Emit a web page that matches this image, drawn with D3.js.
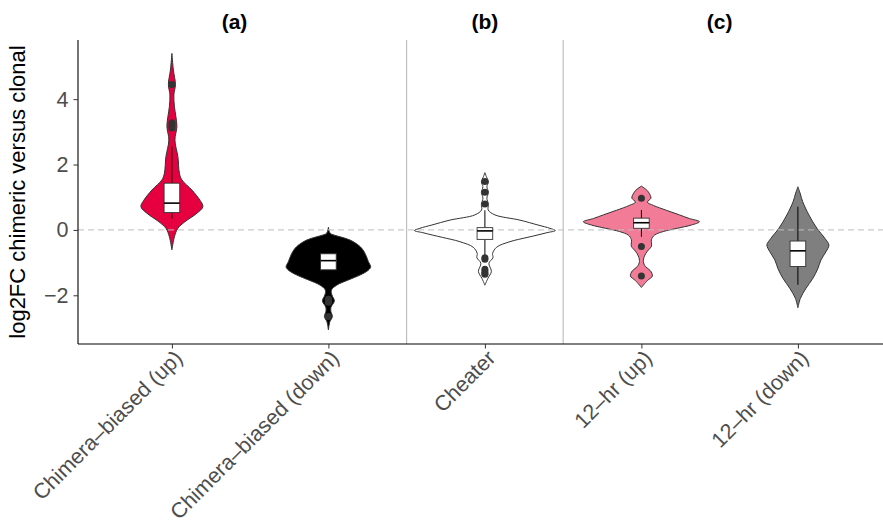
<!DOCTYPE html>
<html>
<head>
<meta charset="utf-8">
<script src="https://cdn.jsdelivr.net/npm/d3@7"></script>
<style>
  html, body { margin: 0; padding: 0; background: #ffffff; }
  svg { display: block; font-family: "Liberation Sans", Arial, Helvetica, sans-serif; }
</style>
</head>
<body>
<svg id="chart" width="883" height="526"></svg>
<script>
// Gene groups along the x axis
const categories = ["Chimera–biased (up)", "Chimera–biased (down)", "Cheater", "12–hr (up)", "12–hr (down)"];

// Violin outlines: [log2FC, relative density] pairs for each group
const densityChimeraUp = [[5.40,0],[4.89,0.021],[4.45,0.05],[4.13,0.028],[3.77,0.036],[3.46,0.057],[3.16,0.071],[2.75,0.043],[2.24,0.085],[1.73,0.107],[1.53,0.142],[1.22,0.284],[0.91,0.398],[0.71,0.44],[0.51,0.355],[0.25,0.185],[0.05,0.085],[-0.21,0.036],[-0.61,0]];
const densityChimeraDown = [[0.08,0],[-0.10,0.024],[-0.16,0.085],[-0.21,0.166],[-0.31,0.308],[-0.51,0.45],[-0.72,0.521],[-0.97,0.568],[-1.13,0.601],[-1.23,0.568],[-1.38,0.45],[-1.53,0.284],[-1.69,0.118],[-1.84,0.043],[-1.99,0.05],[-2.17,0.085],[-2.37,0.036],[-2.50,0.036],[-2.65,0.057],[-2.81,0.021],[-3.06,0]];
const densityCheater = [[1.75,0],[1.63,0.021],[1.47,0.05],[1.32,0.028],[1.15,0.05],[0.97,0.028],[0.79,0.05],[0.61,0.047],[0.46,0.142],[0.30,0.497],[0.15,0.753],[0.05,0.923],[-0.02,1.0],[-0.085,0.88],[-0.16,0.74],[-0.23,0.6],[-0.36,0.355],[-0.53,0.166],[-0.72,0.109],[-0.85,0.114],[-1.02,0.057],[-1.27,0.092],[-1.48,0.043],[-1.69,0]];
const density12hrUp = [[1.34,0],[1.2,0.085],[1.05,0.128],[0.97,0.135],[0.85,0.085],[0.75,0.17],[0.6,0.355],[0.46,0.54],[0.35,0.68],[0.25,0.824],[0.15,0.71],[0.05,0.51],[-0.05,0.31],[-0.16,0.185],[-0.3,0.142],[-0.5,0.142],[-0.65,0.085],[-0.8,0.043],[-0.97,0.028],[-1.12,0.057],[-1.25,0.128],[-1.41,0.156],[-1.55,0.085],[-1.76,0]];
const density12hrDown = [[1.32,0],[1.1,0.035],[0.87,0.067],[0.46,0.156],[0.05,0.27],[-0.26,0.384],[-0.46,0.44],[-0.67,0.398],[-0.92,0.327],[-1.18,0.284],[-1.48,0.213],[-1.79,0.114],[-2.09,0.036],[-2.38,0]];
const densities = [densityChimeraUp, densityChimeraDown, densityCheater, density12hrUp, density12hrDown];

// Box-plot summaries per group
const whiskerLow  = [0.34, -1.70, -0.78, -0.21, -1.68];
const boxQ1       = [0.53, -1.22, -0.29, 0.05, -1.12];
const boxMedian   = [0.82, -0.94, -0.03, 0.22, -0.64];
const boxQ3       = [1.43, -0.73, 0.07, 0.36, -0.34];
const whiskerHigh = [2.55, -0.20, 0.60, 0.61, 0.71];
const outliers = [
  [4.45, 3.28, 3.20, 3.12],
  [-2.12, -2.17, -2.21, -2.65],
  [1.48, 1.15, 0.79, -0.85, -0.90, -1.20, -1.27, -1.33, -1.36],
  [0.97, -0.51, -1.41],
  []
];

// Axis ticks and panel tags
const yTicks = [-2, 0, 2, 4];
const panelTags = ["(a)", "(b)", "(c)"];
const panelTagPos = [1.4, 3, 4.5];
const panelBreaks = [2.5, 3.5];

// Appearance
const fills = ["#E6003F", "#000000", "#FFFFFF", "#F27C98", "#7F7F7F"];
const outlineColor = "#333333";
const tickTextColor = "#4D4D4D";
const tickFont = 21.5;

const svg = d3.select("#chart");
const plotLeft = 78, plotTop = 40, plotBottom = 344;
const step = 156.5;

const x = d3.scaleLinear().domain([0.4, 5.6]).range([plotLeft, plotLeft + 5.2 * step]);
const y = d3.scaleLinear().domain([-3.49, 5.81]).range([plotBottom, plotTop]);
const halfWidth = d3.scaleLinear().domain([0, 1]).range([0, 0.45 * step]);
const boxHalf = 0.05 * step;

// Panel separators
svg.append("g").selectAll("line").data(panelBreaks).join("line")
  .attr("x1", d => x(d)).attr("x2", d => x(d))
  .attr("y1", plotTop).attr("y2", plotBottom)
  .attr("stroke", "#B3B3B3").attr("stroke-width", 1);

// Violins
const violinG = svg.append("g");
densities.forEach((dens, i) => {
  const cx = x(i + 1);
  const area = d3.area()
    .y(d => y(d[0]))
    .x0(d => cx - halfWidth(d[1]))
    .x1(d => cx + halfWidth(d[1]))
    .curve(d3.curveCatmullRom.alpha(0.5));
  violinG.append("path")
    .attr("d", area(dens))
    .attr("fill", fills[i])
    .attr("stroke", outlineColor)
    .attr("stroke-width", 1);
});

// Zero reference line
svg.append("line")
  .attr("x1", plotLeft).attr("x2", 883)
  .attr("y1", y(0)).attr("y2", y(0))
  .attr("stroke", "#BDBDBD").attr("stroke-width", 1)
  .attr("stroke-dasharray", "6,4");

// Box plots
const boxG = svg.append("g");
categories.forEach((c, i) => {
  const cx = x(i + 1);
  const g = boxG.append("g");
  g.append("line").attr("x1", cx).attr("x2", cx)
    .attr("y1", y(whiskerHigh[i])).attr("y2", y(boxQ3[i]))
    .attr("stroke", "#000").attr("stroke-width", 1);
  g.append("line").attr("x1", cx).attr("x2", cx)
    .attr("y1", y(boxQ1[i])).attr("y2", y(whiskerLow[i]))
    .attr("stroke", "#000").attr("stroke-width", 1);
  g.append("rect")
    .attr("x", cx - boxHalf).attr("width", 2 * boxHalf)
    .attr("y", y(boxQ3[i])).attr("height", y(boxQ1[i]) - y(boxQ3[i]))
    .attr("fill", "#FFFFFF").attr("stroke", outlineColor).attr("stroke-width", 0.9);
  g.append("line")
    .attr("x1", cx - boxHalf).attr("x2", cx + boxHalf)
    .attr("y1", y(boxMedian[i])).attr("y2", y(boxMedian[i]))
    .attr("stroke", "#000").attr("stroke-width", 1.6);
  g.selectAll("circle").data(outliers[i]).join("circle")
    .attr("cx", cx).attr("cy", d => y(d)).attr("r", 3.5)
    .attr("fill", "#333333");
});

// Y axis
const yAxis = svg.append("g").attr("transform", `translate(${plotLeft},0)`)
  .call(d3.axisLeft(y).tickValues(yTicks).tickSize(4.5).tickPadding(5)
        .tickFormat(d => d < 0 ? "\u2212" + Math.abs(d) : d));
yAxis.select(".domain").attr("d", `M0,${plotTop}V${plotBottom}`).attr("stroke", "#000").attr("stroke-width", 1.1);
yAxis.selectAll(".tick line").attr("stroke", "#333");
yAxis.selectAll(".tick text").attr("fill", tickTextColor)
  .style("font-size", tickFont + "px").style("font-family", "Liberation Sans, Arial, sans-serif");

// X axis
const xAxis = svg.append("g").attr("transform", `translate(0,${plotBottom})`)
  .call(d3.axisBottom(x).tickValues([1, 2, 3, 4, 5]).tickSize(4.5)
        .tickFormat(d => categories[d - 1]));
xAxis.select(".domain").attr("d", `M${plotLeft},0H883`).attr("stroke", "#000").attr("stroke-width", 1.1);
xAxis.selectAll(".tick line").attr("stroke", "#333");
xAxis.selectAll(".tick text")
  .attr("fill", tickTextColor)
  .attr("text-anchor", "end")
  .attr("x", null).attr("y", null).attr("dy", null)
  .attr("transform", "translate(11.4,15.4) rotate(-45)")
  .style("font-size", tickFont + "px").style("font-family", "Liberation Sans, Arial, sans-serif");

// Y axis title
svg.append("text")
  .attr("transform", `translate(25,${(plotTop + plotBottom) / 2}) rotate(-90)`)
  .attr("text-anchor", "middle")
  .attr("fill", "#000")
  .style("font-size", "22px")
  .text("log2FC chimeric versus clonal");

// Panel tags
svg.append("g").selectAll("text").data(panelTags).join("text")
  .attr("x", (d, i) => x(panelTagPos[i]))
  .attr("y", 29)
  .attr("text-anchor", "middle")
  .attr("font-weight", "bold")
  .style("font-size", "21px")
  .attr("fill", "#000")
  .text(d => d);
</script>
</body>
</html>
